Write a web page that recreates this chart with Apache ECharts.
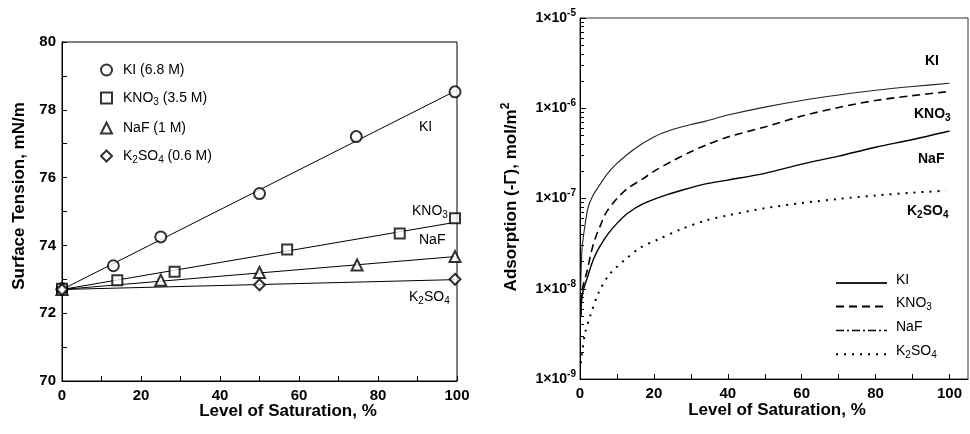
<!DOCTYPE html>
<html><head><meta charset="utf-8">
<script src="https://cdn.jsdelivr.net/npm/echarts@6/dist/echarts.min.js"></script>
<style>html,body{margin:0;padding:0;background:#fff}#c{width:970px;height:434px}</style>
</head><body><div id="c"></div>
<script>
// ---- Left panel: surface tension vs level of saturation ----
const satKI = [0, 13, 25, 50, 74.5, 99.5];
const tensKI = [72.72, 73.4, 74.25, 75.53, 77.21, 78.53];
const satKNO3 = [0, 14, 28.5, 57, 85.5, 99.5];
const tensKNO3 = [72.72, 72.97, 73.22, 73.88, 74.35, 74.8];
const satNaF = [0, 25, 50, 74.7, 99.5];
const tensNaF = [72.7, 72.97, 73.2, 73.42, 73.67];
const satK2SO4 = [0, 50, 99.5];
const tensK2SO4 = [72.7, 72.84, 73.0];
const fitX = [0, 99.5];
const fitKI = [72.7, 78.55];
const fitKNO3 = [72.7, 74.68];
const fitNaF = [72.7, 73.67];
const fitK2SO4 = [72.7, 72.99];
const leftNames = ['KI (6.8 M)', 'KNO3 (3.5 M)', 'NaF (1 M)', 'K2SO4 (0.6 M)'];

// ---- Right panel: adsorption vs level of saturation ----
const xKI = [0.1, 0.3, 0.6, 1.3, 2.2, 3.5, 5, 7.5, 10, 15, 20, 25, 30, 34, 40, 50, 60, 70, 80, 90, 100];
const adsKI = [7e-9, 1.6e-8, 2.9e-8, 4.9e-8, 8e-8, 1.08e-7, 1.35e-7, 1.9e-7, 2.45e-7, 3.6e-7, 4.8e-7, 5.8e-7, 6.6e-7, 7.2e-7, 8.4e-7, 1.03e-6, 1.22e-6, 1.4e-6, 1.58e-6, 1.74e-6, 1.89e-6];
const xKNO3 = [0.2, 0.5, 1, 1.8, 3, 4, 5.5, 7, 10, 13, 17, 20, 25, 30, 34, 40, 50, 60, 70, 80, 90, 99];
const adsKNO3 = [5e-9, 9e-9, 1.15e-8, 1.5e-8, 2.5e-8, 3.5e-8, 5e-8, 6.9e-8, 1e-7, 1.3e-7, 1.65e-7, 2.0e-7, 2.6e-7, 3.3e-7, 3.9e-7, 4.8e-7, 6.2e-7, 8.2e-7, 1.02e-6, 1.22e-6, 1.38e-6, 1.52e-6];
const xNaF = [0.2, 0.5, 1, 1.8, 3, 4, 5.5, 7.7, 10, 13, 17, 22, 28, 34, 40, 50, 60, 70, 80, 90, 100];
const adsNaF = [5e-9, 8e-9, 1e-8, 1.26e-8, 1.8e-8, 2.3e-8, 3e-8, 4.1e-8, 5.3e-8, 6.9e-8, 8.7e-8, 1.05e-7, 1.25e-7, 1.45e-7, 1.6e-7, 1.9e-7, 2.4e-7, 2.95e-7, 3.7e-7, 4.5e-7, 5.6e-7];
const xK2SO4 = [0.2, 0.45, 1.35, 2.7, 5, 7.7, 10, 12.2, 16, 21, 27, 34, 40, 50, 60, 70, 80, 90, 99];
const adsK2SO4 = [1.5e-9, 1.8e-9, 3.2e-9, 4.9e-9, 9e-9, 1.4e-8, 1.75e-8, 2.1e-8, 2.8e-8, 3.5e-8, 4.5e-8, 5.7e-8, 6.5e-8, 7.8e-8, 8.9e-8, 9.9e-8, 1.08e-7, 1.16e-7, 1.22e-7];
const rightNames = ['KI', 'KNO3', 'NaF', 'K2SO4'];

const FONT = 'Liberation Sans, Arial, Helvetica, sans-serif';
const zip = (a, b) => a.map((v, i) => [v, b[i]]);

// minor log ticks (2..9 per decade) in log10 space
const minorLog = [];
for (let e = -9; e < -5; e++) for (let k = 2; k <= 9; k++) minorLog.push(Math.log10(k * Math.pow(10, e)));

const subRich = {
  n: { fontSize: 14, fontFamily: FONT, color: '#000', lineHeight: 18, verticalAlign: 'middle' },
  s: { fontSize: 10, fontFamily: FONT, color: '#000', lineHeight: 10, verticalAlign: 'bottom' }
};
const subRichBold = {
  n: { fontSize: 14, fontFamily: FONT, fontWeight: 'bold', color: '#000', lineHeight: 18, verticalAlign: 'middle' },
  s: { fontSize: 10, fontFamily: FONT, fontWeight: 'bold', color: '#000', lineHeight: 10, verticalAlign: 'bottom' }
};
function chem(str) {
  return str.replace(/([A-Za-z])(\d)/g, '$1\u0000$2').split(/(\u0000\d)/).filter(t => t.length)
    .map(t => t[0] === '\u0000' ? '{s|' + t.slice(1) + '}' : '{n|' + t + '}').join('');
}

const chart = echarts.init(document.getElementById('c'), null, { renderer: 'canvas' });

const markerSymbols = ['emptyCircle', 'emptyRect', 'emptyTriangle', 'emptyDiamond'];
const leftSat = [satKI, satKNO3, satNaF, satK2SO4];
const leftTens = [tensKI, tensKNO3, tensNaF, tensK2SO4];
const leftFit = [fitKI, fitKNO3, fitNaF, fitK2SO4];
const rightX = [xKI, xKNO3, xNaF, xK2SO4];
const rightY = [adsKI, adsKNO3, adsNaF, adsK2SO4];
const rightLine = [
  { type: 'solid', width: 1.1, color: '#222' },
  { type: [8, 5], width: 1.6, color: '#000' },
  { type: 'solid', width: 1.4, color: '#000' },
  { type: [2, 6], width: 2, color: '#000' }
];

const series = [];
leftFit.forEach((f, i) => series.push({
  type: 'line', name: 'fit' + i, xAxisIndex: 0, yAxisIndex: 0, data: zip(fitX, f),
  symbol: 'none', lineStyle: { color: '#000', width: 1 }, silent: true, z: 2
}));
leftNames.forEach((nm, i) => series.push({
  type: 'scatter', name: nm, xAxisIndex: 0, yAxisIndex: 0, data: zip(leftSat[i], leftTens[i]),
  symbol: markerSymbols[i], symbolSize: i === 1 ? 10 : 11,
  itemStyle: { color: '#000', borderColor: '#000', borderWidth: 1 }, z: 3
}));
rightNames.forEach((nm, i) => series.push({
  type: 'line', name: nm, xAxisIndex: 1, yAxisIndex: 1, data: zip(rightX[i], rightY[i]),
  symbol: 'none', showSymbol: false, smooth: 0.3, lineStyle: rightLine[i], itemStyle: { color: '#000' }
}));

const axisCommon = {
  axisLine: { show: true, lineStyle: { color: '#000', width: 1 } },
  splitLine: { show: false },
  axisTick: { show: true, inside: true, length: 5, lineStyle: { color: '#000' } }
};
const labelBold = { color: '#000', fontFamily: FONT, fontWeight: 'bold', fontSize: 15 };

function gtext(x, y, text, rich, opts) {
  return {
    type: 'text', x: x, y: y, silent: true,
    style: Object.assign({ text: text, rich: rich, fill: '#000', align: 'left', verticalAlign: 'middle',
      textAlign: 'left', textVerticalAlign: 'middle' }, opts || {})
  };
}

const option = {
  animation: false,
  backgroundColor: '#fff',
  textStyle: { fontFamily: FONT },
  grid: [
    { left: 62, top: 42, width: 395, height: 339, show: true, borderColor: '#000', borderWidth: 1, outerBoundsMode: 'none', containLabel: false },
    { left: 580, top: 18, width: 388, height: 361, show: true, borderColor: '#333', borderWidth: 1, outerBoundsMode: 'none', containLabel: false }
  ],
  xAxis: [
    Object.assign({}, axisCommon, { type: 'value', gridIndex: 0, min: 0, max: 100, interval: 10,
      axisLabel: Object.assign({}, labelBold, { margin: 7, formatter: v => (Math.round(v) % 20 === 0 ? String(Math.round(v)) : '') }) }),
    Object.assign({}, axisCommon, { type: 'value', gridIndex: 1, min: 0, max: 105, interval: 10,
      axisLabel: Object.assign({}, labelBold, { margin: 7, showMaxLabel: false,
        formatter: v => (Math.round(v) % 20 === 0 && v <= 100 ? String(Math.round(v)) : '') }) })
  ],
  yAxis: [
    Object.assign({}, axisCommon, { type: 'value', gridIndex: 0, min: 70, max: 80, interval: 1,
      axisLabel: Object.assign({}, labelBold, { margin: 6, formatter: v => (Math.round(v) % 2 === 0 ? String(Math.round(v)) : '') }) }),
    Object.assign({}, axisCommon, { type: 'log', logBase: 10, gridIndex: 1, min: 1e-9, max: 1e-5,
      axisTick: { show: true, inside: true, length: 6, lineStyle: { color: '#000' } },
      axisLabel: { margin: 4, color: '#000',
        formatter: v => '{b|1×10}{p|' + Math.round(Math.log10(v)) + '}',
        rich: {
          b: { fontSize: 14, fontFamily: FONT, fontWeight: 'bold', color: '#000', lineHeight: 20, verticalAlign: 'middle' },
          p: { fontSize: 10, fontFamily: FONT, fontWeight: 'bold', color: '#000', lineHeight: 10, verticalAlign: 'top' }
        } } }),
    { type: 'value', gridIndex: 1, min: -9, max: -5, position: 'left',
      axisLine: { show: false }, splitLine: { show: false }, axisLabel: { show: false },
      axisTick: { show: true, inside: true, length: 4, customValues: minorLog, lineStyle: { color: '#000' } } }
  ],
  legend: [
    { orient: 'vertical', left: 95, top: 58, itemWidth: 11, itemHeight: 11, itemGap: 14,
      data: leftNames, selectedMode: false,
      formatter: nm => chem(nm),
      textStyle: { fontSize: 14, fontFamily: FONT, color: '#000', padding: [0, 0, 0, 6], rich: subRich } },
    { orient: 'vertical', left: 830, top: 268, itemWidth: 51, itemHeight: 14, itemGap: 8,
      selectedMode: false,
      itemStyle: { opacity: 0, borderWidth: 0 },
      data: [
        { name: 'KI' },
        { name: 'KNO3' },
        { name: 'NaF', lineStyle: { type: [8, 3, 2, 3], width: 1.5 } },
        { name: 'K2SO4' }
      ],
      formatter: nm => chem(nm),
      textStyle: { fontSize: 14, fontFamily: FONT, color: '#000', padding: [0, 0, 6, 4], rich: subRich } }
  ],
  graphic: [
    Object.assign(gtext(19, 196, 'Surface Tension, mN/m', null, { font: 'bold 17px ' + FONT, align: 'center', textAlign: 'center' }), { rotation: Math.PI / 2 }),
    gtext(288, 411, 'Level of Saturation, %', null, { font: 'bold 17px ' + FONT, align: 'center', textAlign: 'center' }),
    gtext(777, 410, 'Level of Saturation, %', null, { font: 'bold 17px ' + FONT, align: 'center', textAlign: 'center' }),
    Object.assign(gtext(511, 197, '{t|Adsorption (-Γ), mol/m}{p|2}', {
      t: { fontSize: 17, fontFamily: FONT, fontWeight: 'bold', color: '#000', lineHeight: 22, verticalAlign: 'middle' },
      p: { fontSize: 12, fontFamily: FONT, fontWeight: 'bold', color: '#000', lineHeight: 12, verticalAlign: 'top' }
    }, { align: 'center', textAlign: 'center' }), { rotation: Math.PI / 2 }),
    // left panel line labels
    gtext(419, 127, chem('KI'), subRich),
    gtext(412, 211, chem('KNO3'), subRich),
    gtext(419, 240, chem('NaF'), subRich),
    gtext(409, 297, chem('K2SO4'), subRich),
    // right panel line labels
    gtext(925, 61, chem('KI'), subRichBold),
    gtext(914, 114, chem('KNO3'), subRichBold),
    gtext(918, 159, chem('NaF'), subRichBold),
    gtext(907, 211, chem('K2SO4'), subRichBold)
  ],
  series: series
};
chart.setOption(option);
</script></body></html>
